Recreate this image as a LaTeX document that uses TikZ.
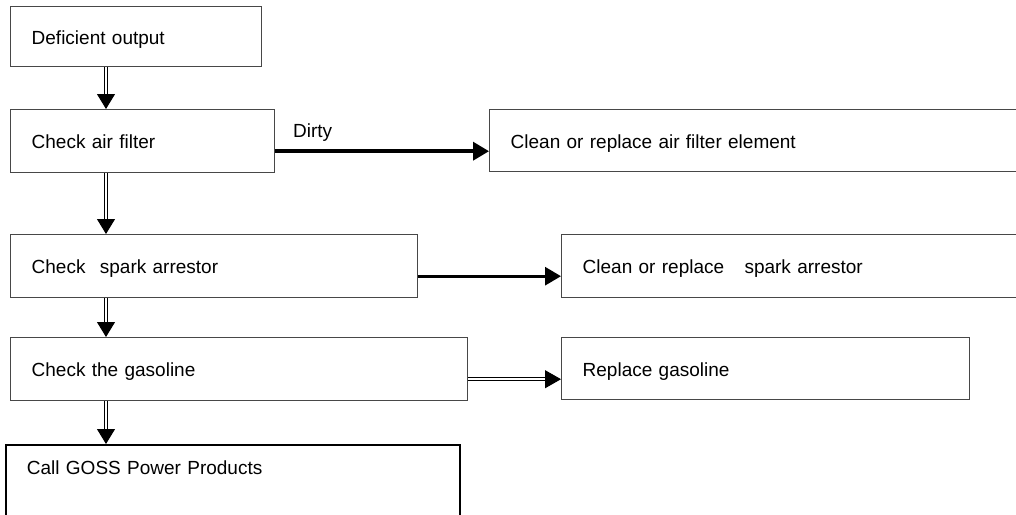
\documentclass[tikz,border=0pt]{standalone}
\usepackage{fontspec}
\setmainfont{Liberation Sans}
\usetikzlibrary{arrows.meta}

\begin{document}
\begin{tikzpicture}[x=1pt,y=-1pt,
box/.style={draw=black!72,line width=1.4pt,anchor=north west,align=left,inner xsep=21pt,inner ysep=0pt,
  text height=15pt,text depth=0pt,font=\fontsize{19}{23}\selectfont},
lbl/.style={inner sep=0pt,font=\fontsize{19}{23}\selectfont},
downarr/.style={double,double distance=2pt,line width=1pt,-{Triangle[length=15pt,width=18pt]}},
thickarr/.style={line width=3.5pt,-{Triangle[length=16pt,width=18pt]}},
dblarr/.style={double,double distance=2pt,line width=1pt,-{Triangle[length=16pt,width=18pt]}}]
\useasboundingbox (0,0) rectangle (1016,514);
\clip (0,0) rectangle (1016,514);
\coordinate (axis) at (106,0);
\node[box,text width=209pt,minimum height=60pt] (out) at (10,6) {Deficient output};
\node[box,text width=222pt,minimum height=63pt] (air) at (10,109) {Check air filter};
\node[box,text width=518pt,minimum height=62pt] (cleanair) at (489,109) {Clean or replace air filter element};
\node[box,text width=365pt,minimum height=63pt] (spark) at (10,234) {Check\hspace{8pt} spark arrestor};
\node[box,text width=438pt,minimum height=63pt] (cleanspark) at (561,234) {Clean or replace\hspace{14pt} spark arrestor};
\node[box,text width=415pt,minimum height=63pt] (gas) at (10,337) {Check the gasoline};
\node[box,text width=366pt,minimum height=62pt] (replgas) at (561,337) {Replace gasoline};
\node[box,draw=black,line width=1.8pt,text width=412pt,text height=30pt,text depth=100pt] (call) at (5,444) {Call GOSS Power Products};
\node[lbl,anchor=base west] (dirty) at (293,137) {Dirty};
% down the left side
\draw[downarr] (out.south -| axis) -- (air.north -| axis);
\draw[downarr] (air.south -| axis) -- (spark.north -| axis);
\draw[downarr] (spark.south -| axis) -- (gas.north -| axis);
\draw[downarr] (gas.south -| axis) -- (call.north -| axis);
% to the right
\draw[thickarr] ([yshift=-10pt]air.east) -- ([yshift=-10pt]air.east -| cleanair.west);
\draw[line width=3pt,-{Triangle[length=16pt,width=18pt]}] ([yshift=-10pt]spark.east) -- ([yshift=-10pt]spark.east -| cleanspark.west);
\draw[dblarr] ([yshift=-10pt]gas.east) -- ([yshift=-10pt]gas.east -| replgas.west);
\end{tikzpicture}
\end{document}
